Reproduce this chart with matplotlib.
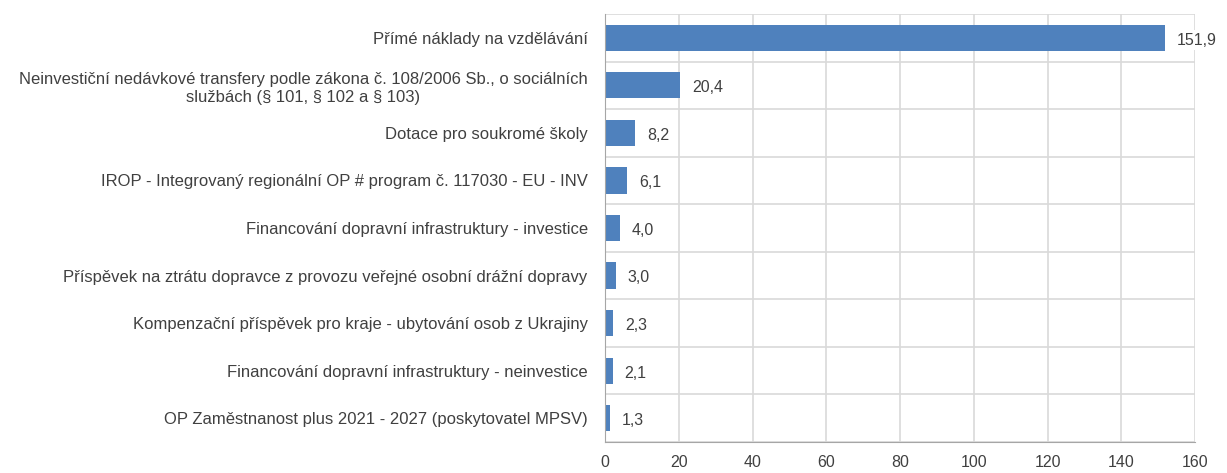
import numpy as np
import matplotlib
matplotlib.use("Agg")
import matplotlib.pyplot as plt

categories = [
    "Přímé náklady na vzdělávání",
    "Neinvestiční nedávkové transfery podle zákona č. 108/2006 Sb., o sociálních\nslužbách (§ 101, § 102 a § 103)",
    "Dotace pro soukromé školy",
    "IROP - Integrovaný regionální OP # program č. 117030 - EU - INV",
    "Financování dopravní infrastruktury - investice",
    "Příspěvek na ztrátu dopravce z provozu veřejné osobní drážní dopravy",
    "Kompenzační příspěvek pro kraje - ubytování osob z Ukrajiny",
    "Financování dopravní infrastruktury - neinvestice",
    "OP Zaměstnanost plus 2021 - 2027 (poskytovatel MPSV)",
]
values = [151.9, 20.4, 8.2, 6.1, 4.0, 3.0, 2.3, 2.1, 1.3]
xticks = [0, 20, 40, 60, 80, 100, 120, 140, 160]

plt.rcParams['font.family'] = ['Liberation Sans', 'DejaVu Sans']
txt = '#404040'
grid = '#d9d9d9'
fs = 11.5

fig = plt.figure(figsize=(12.27, 4.73), dpi=100)
ax = fig.add_axes([605/1227, 1 - 442/473, 590/1227, 428/473])

y = np.arange(len(categories))
ax.barh(y, values, height=0.55, color='#4f81bd', zorder=3)
ax.set_ylim(len(categories) - 0.5, -0.5)
ax.set_xlim(0, 160)
ax.set_yticks(y)
ax.set_yticklabels(categories, fontsize=12, color=txt, multialignment='center',
                   linespacing=1.25)
ax.set_yticks(np.arange(len(categories) + 1) - 0.5, minor=True)
ax.set_xticks(xticks)
ax.set_xticklabels([str(t) for t in xticks], fontsize=fs, color=txt)
ax.tick_params(axis='y', which='both', length=0, pad=12.5)
ax.tick_params(axis='x', length=0, pad=9)
ax.grid(axis='x', color=grid, lw=1.2, zorder=0)
ax.grid(axis='y', which='minor', color=grid, lw=1.2, zorder=0)
ax.grid(axis='y', which='major', visible=False)
for s in ['top', 'right']:
    ax.spines[s].set_visible(False)
ax.spines['left'].set_color('#a6a6a6')
ax.spines['bottom'].set_color('#a6a6a6')
ax.spines['left'].set_zorder(4)

for yi, v in zip(y, values):
    ax.text(v + 3.2, yi + 0.05, f"{v:.1f}".replace('.', ','), va='center', ha='left',
            fontsize=fs, color=txt, zorder=5,
            bbox=dict(facecolor='white', edgecolor='none', pad=2))

fig.savefig('out.png', dpi=100)
